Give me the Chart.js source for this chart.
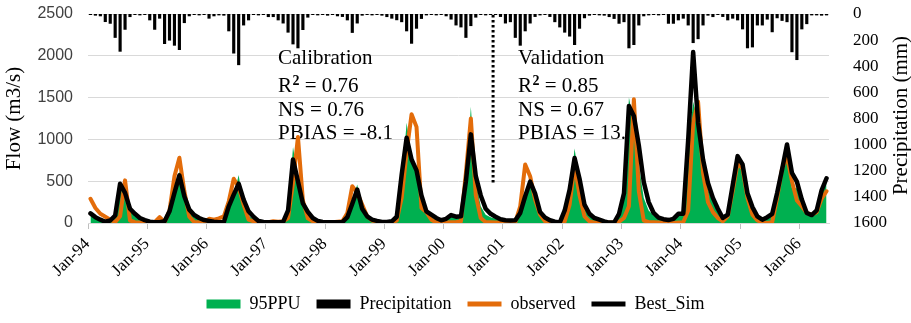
<!DOCTYPE html>
<html>
<head>
<meta charset="utf-8">
<script src="https://cdn.jsdelivr.net/npm/chart.js@4.4.1/dist/chart.umd.min.js"></script>
<style>
  html, body { margin: 0; padding: 0; background: #fff; }
  #wrap { width: 911px; height: 323px; position: relative; }
</style>
</head>
<body>
<div id="wrap"><canvas id="chart"></canvas></div>
<script>
// Monthly series, Jan-94 .. Jun-06
const YEARS = ['94', '95', '96', '97', '98', '99', '00', '01', '02', '03', '04', '05', '06'];
const MONTHS = ['Jan', 'Feb', 'Mar', 'Apr', 'May', 'Jun', 'Jul', 'Aug', 'Sep', 'Oct', 'Nov', 'Dec'];

// Precipitation (mm), right axis, reversed
const PRECIP = [
    5, 10, 15, 59, 72, 180, 286, 118, 21, 5, 8, 5,
    46, 118, 33, 227, 201, 240, 273, 67, 15, 5, 8, 5,
    33, 15, 8, 10, 130, 300, 389, 85, 46, 5, 8, 5,
    21, 21, 46, 70, 140, 230, 260, 120, 25, 5, 8, 5,
    10, 5, 15, 20, 46, 142, 70, 10, 5, 8, 5, 10,
    21, 33, 45, 60, 130, 225, 110, 35, 8, 5, 8, 5,
    15, 40, 85, 100, 180, 90, 25, 5, 8, 5, 5, 20,
    70, 60, 180, 240, 130, 70, 20, 8, 5, 20, 60, 100,
    140, 170, 235, 110, 30, 10, 5, 8, 10, 21, 35, 72,
    60, 260, 235, 85, 15, 8, 5, 8, 5, 72, 72, 46,
    33, 85, 220, 190, 85, 10, 21, 5, 20, 46, 33, 46,
    115, 260, 253, 85, 85, 40, 137, 30, 50, 60, 290, 350,
    115, 75, 8, 8, 10, 8
];

// Flow (m3/s), left axis
const OBSERVED = [
    290, 180, 110, 75, 40, 10, 80, 510, 30, 10, 5, 5,
    5, 10, 70, 10, 150, 560, 780, 380, 75, 10, 10, 10,
    50, 40, 55, 80, 260, 530, 430, 220, 40, 20, 10, 10,
    10, 20, 15, 20, 60, 480, 1030, 270, 55, 20, 10, 10,
    10, 10, 15, 20, 120, 440, 360, 220, 80, 30, 15, 10,
    10, 10, 30, 300, 850, 1300, 1150, 180, 130, 40, 5, 0,
    5, 10, 10, 20, 600, 1250, 330, 60, 10, 10, 5, 5,
    5, 5, 10, 200, 700, 560, 280, 100, 20, 5, 0, 0,
    20, 220, 700, 330, 80, 20, 5, 5, 5, 5, 5, 15,
    60, 200, 1480, 380, 30, 10, 10, 5, 5, 0, 0, 5,
    10, 150, 1200, 1450, 600, 250, 130, 60, 20, 80, 380, 720,
    650, 300, 100, 30, 5, 0, 10, 300, 650, 800, 500, 270,
    200, 120, 100, 130, 290, 380
];

const BEST_SIM = [
    115, 70, 40, 15, 30, 90, 470, 360, 170, 110, 60, 35,
    15, 10, 10, 20, 140, 360, 570, 320, 160, 95, 60, 35,
    25, 15, 8, 10, 200, 340, 470, 280, 140, 75, 25, 12,
    10, 10, 10, 12, 150, 760, 500, 234, 133, 60, 25, 12,
    10, 8, 8, 10, 70, 230, 400, 170, 80, 40, 25, 12,
    12, 20, 75, 580, 1020, 760, 630, 330, 140, 100, 60, 33,
    50, 95, 75, 80, 500, 1060, 560, 330, 170, 110, 75, 45,
    33, 30, 33, 120, 320, 495, 355, 133, 65, 33, 15, 5,
    150, 400, 777, 530, 220, 110, 60, 40, 20, 5, 5, 110,
    355, 1400, 1280, 930, 490, 250, 120, 65, 45, 35, 50, 110,
    112, 1000, 2045, 1200, 760, 480, 300, 170, 60, 100, 450, 800,
    700, 355, 190, 80, 40, 70, 110, 360, 640, 940, 600, 495,
    280, 120, 95, 150, 390, 535
];

const PPU95 = [
    100, 60, 40, 20, 25, 60, 495, 300, 150, 80, 50, 30,
    15, 10, 10, 15, 150, 400, 620, 300, 130, 70, 40, 25,
    20, 10, 8, 10, 180, 330, 575, 200, 90, 45, 20, 10,
    8, 8, 8, 10, 150, 910, 550, 250, 120, 50, 20, 10,
    8, 8, 8, 10, 80, 250, 460, 160, 80, 40, 20, 10,
    10, 15, 60, 500, 1200, 800, 600, 300, 120, 70, 40, 25,
    40, 80, 60, 70, 450, 1390, 500, 200, 100, 70, 50, 35,
    25, 25, 25, 100, 300, 480, 330, 120, 50, 25, 10, 5,
    120, 350, 890, 480, 180, 90, 50, 30, 15, 5, 5, 90,
    330, 1500, 1200, 700, 300, 150, 90, 50, 35, 30, 40, 90,
    100, 900, 1450, 1200, 650, 400, 250, 140, 50, 90, 420, 780,
    650, 330, 170, 70, 35, 60, 100, 330, 600, 850, 415, 415,
    230, 110, 90, 140, 380, 530
];

// Calibration / validation split (between Oct-00 and Nov-00), dotted marker height in flow units
const SPLIT_MONTHS = [81, 82];
const SPLIT_FLOW = [2500, 470];
const STAT_NAMES = ['R', 'NS', 'PBIAS'];
const CAL_STATS = ['0.76', '0.76', '-8.1'];
const VAL_STATS = ['0.85', '0.67', '13.4'];

const COLORS = {
    green: '#00b050',
    orange: '#e36c0a',
    black: '#000000',
    grid: '#d9d9d9',
};

const SERIF = "'Liberation Serif', 'Times New Roman', serif";
Chart.defaults.font.family = SERIF;
Chart.defaults.color = '#000';

const labels = [];
YEARS.forEach(y => MONTHS.forEach(m => labels.push(m + '-' + y)));
labels.length = BEST_SIM.length;

// Stats text boxes + split marker, drawn under the series
const annotations = {
    id: 'annotations',
    beforeDatasetsDraw(chart) {
        const { ctx } = chart;
        const x = chart.scales.x;
        const y = chart.scales.y;
        ctx.save();

        // dotted split line
        const sx = (x.getPixelForValue(SPLIT_MONTHS[0]) + x.getPixelForValue(SPLIT_MONTHS[1])) / 2;
        ctx.strokeStyle = '#000';
        ctx.lineWidth = 3;
        ctx.setLineDash([2.5, 2.5]);
        ctx.beginPath();
        ctx.moveTo(sx, y.getPixelForValue(SPLIT_FLOW[0]) + 1);
        ctx.lineTo(sx, y.getPixelForValue(SPLIT_FLOW[1]));
        ctx.stroke();
        ctx.setLineDash([]);

        const block = (left, title, stats) => {
            ctx.fillStyle = '#000';
            ctx.textAlign = 'left';
            ctx.textBaseline = 'alphabetic';
            ctx.font = '21px ' + SERIF;
            ctx.fillText(title, left, 64);
            // R² line
            ctx.fillText(STAT_NAMES[0], left, 92);
            let w = ctx.measureText(STAT_NAMES[0]).width;
            ctx.font = 'bold 14px ' + SERIF;
            ctx.fillText('2', left + w + 0.5, 85);
            w += ctx.measureText('2').width + 0.5;
            ctx.font = '21px ' + SERIF;
            ctx.fillText(' = ' + stats[0], left + w, 92);
            ctx.fillText(STAT_NAMES[1] + ' = ' + stats[1], left, 116);
            ctx.fillText(STAT_NAMES[2] + ' = ' + stats[2], left, 139);
        };
        block(278, 'Calibration', CAL_STATS);
        block(518, 'Validation', VAL_STATS);
        ctx.restore();
    },
    afterDraw(chart) {
        const { ctx, chartArea } = chart;
        ctx.save();
        ctx.translate(chart.width - 10, (chartArea.top + chartArea.bottom) / 2 - 3);
        ctx.rotate(-Math.PI / 2);
        ctx.font = '21px ' + SERIF;
        ctx.fillStyle = '#000';
        ctx.textAlign = 'center';
        ctx.textBaseline = 'middle';
        ctx.fillText('Precipitation (mm)', 0, 0);
        ctx.restore();
    }
};

// keep the vertical axes from padding the plot top
const fitVertical = (width) => (s) => {
    s.width = width;
    s.paddingTop = 8;
    s.paddingBottom = 8;
};

new Chart(document.getElementById('chart'), {
    data: {
        labels: labels,
        datasets: [
            {
                type: 'line',
                label: 'Best_Sim',
                data: BEST_SIM,
                yAxisID: 'y',
                borderColor: COLORS.black,
                borderWidth: 4.5,
                borderJoinStyle: 'round',
                borderCapStyle: 'round',
                pointRadius: 0,
                tension: 0,
                order: 0,
            },
            {
                type: 'line',
                label: 'observed',
                data: OBSERVED,
                yAxisID: 'y',
                borderColor: COLORS.orange,
                borderWidth: 4,
                borderJoinStyle: 'round',
                borderCapStyle: 'round',
                pointRadius: 0,
                tension: 0,
                order: 1,
            },
            {
                type: 'bar',
                label: 'Precipitation',
                data: PRECIP,
                yAxisID: 'y2',
                backgroundColor: COLORS.black,
                barThickness: 2.5,
                order: 2,
            },
            {
                type: 'line',
                label: '95PPU',
                data: PPU95,
                yAxisID: 'y',
                backgroundColor: COLORS.green,
                borderWidth: 0,
                pointRadius: 0,
                tension: 0,
                fill: 'origin',
                order: 3,
            },
        ]
    },
    options: {
        responsive: true,
        maintainAspectRatio: false,
        animation: false,
        layout: { padding: { top: 14, left: 0, right: 0, bottom: 0 } },
        plugins: {
            tooltip: { enabled: false },
            legend: {
                position: 'bottom',
                labels: {
                    usePointStyle: true,
                    pointStyleWidth: 34,
                    boxHeight: 9,
                    padding: 16,
                    font: { size: 18 },
                    color: '#000',
                    generateLabels: () => [
                        { text: '95PPU', fillStyle: COLORS.green, strokeStyle: COLORS.green, lineWidth: 0, pointStyle: 'rect', datasetIndex: 3 },
                        { text: 'Precipitation', fillStyle: COLORS.black, strokeStyle: COLORS.black, lineWidth: 0, pointStyle: 'rect', datasetIndex: 2 },
                        { text: 'observed', fillStyle: COLORS.orange, strokeStyle: COLORS.orange, lineWidth: 5, pointStyle: 'line', datasetIndex: 1 },
                        { text: 'Best_Sim', fillStyle: COLORS.black, strokeStyle: COLORS.black, lineWidth: 5, pointStyle: 'line', datasetIndex: 0 },
                    ]
                }
            }
        },
        scales: {
            x: {
                type: 'category',
                offset: true,
                grid: {
                    display: true,
                    offset: true,
                    drawOnChartArea: false,
                    drawTicks: true,
                    tickLength: 6,
                    color: (c) => (c.index % 12 === 0 ? '#bfbfbf' : 'rgba(0,0,0,0)'),
                },
                border: { display: true, color: COLORS.grid },
                ticks: {
                    autoSkip: false,
                    maxRotation: 45,
                    minRotation: 45,
                    padding: 5,
                    labelOffset: -3,
                    font: { size: 17 },
                    color: '#000',
                    callback: (v, i) => (i % 12 === 0 ? labels[i] : ''),
                },
                afterFit: (s) => { s.height = 56; },
            },
            y: {
                position: 'left',
                min: 0,
                max: 2500,
                ticks: {
                    stepSize: 500,
                    padding: 15,
                    font: { family: "'Liberation Sans', Arial, sans-serif", size: 16 },
                    color: '#404040',
                    callback: (v) => String(v),
                },
                grid: { color: COLORS.grid, drawTicks: false },
                border: { display: false },
                title: {
                    display: true,
                    text: 'Flow (m3/s)',
                    font: { size: 21 },
                    color: '#000',
                    padding: { top: 2, bottom: 0 },
                },
                afterFit: fitVertical(88),
            },
            y2: {
                position: 'right',
                reverse: true,
                min: 0,
                max: 1600,
                ticks: {
                    stepSize: 200,
                    padding: 16,
                    font: { size: 17 },
                    color: '#000',
                    callback: (v) => String(v),
                },
                grid: { display: false, drawOnChartArea: false },
                border: { display: false },
                afterFit: fitVertical(82),
            },
        }
    },
    plugins: [annotations]
});
</script>
</body>
</html>
